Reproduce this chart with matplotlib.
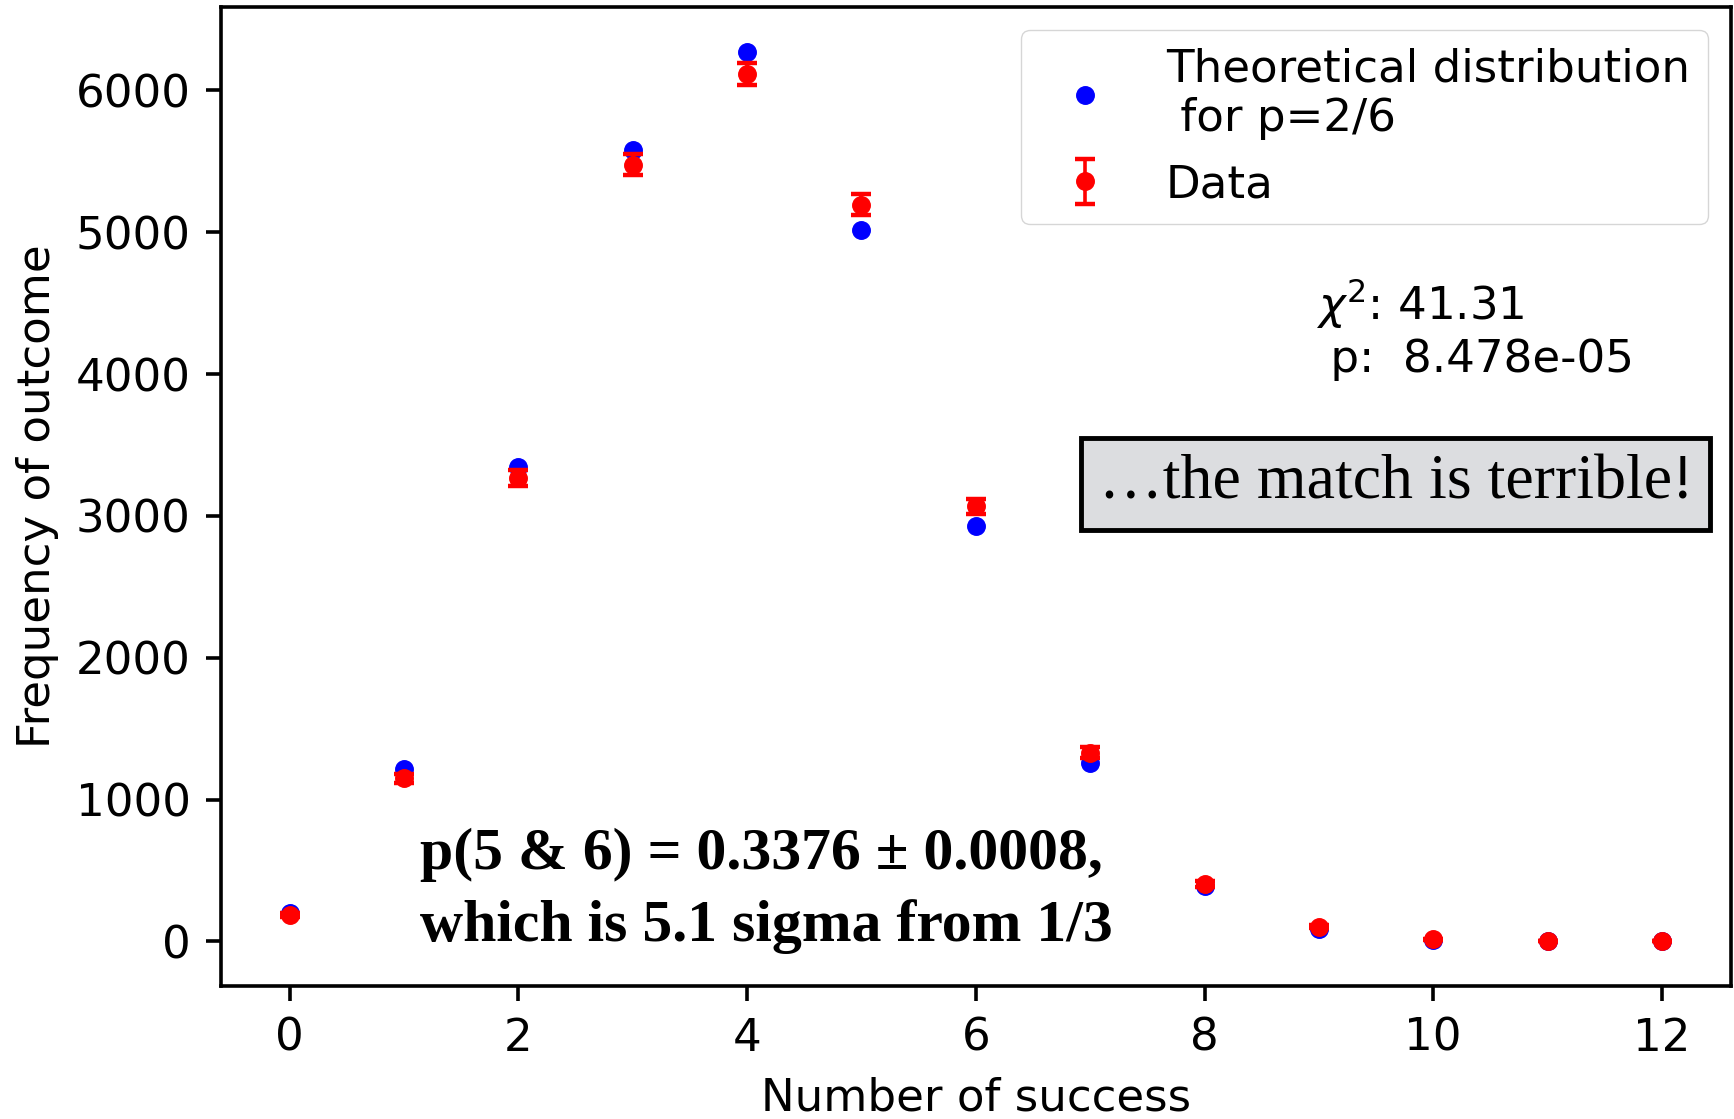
import numpy as np
import matplotlib.pyplot as plt

# =========================
# Data (Weldon dice: number of 5s and 6s in 12 dice)
# =========================
successes = [0, 1, 2, 3, 4, 5, 6, 7, 8, 9, 10, 11, 12]
observed = [185, 1149, 3265, 5475, 6114, 5194, 3067, 1331, 403, 105, 14, 4, 0]
obs_err = [13.6, 33.9, 57.1, 74.0, 78.2, 72.1, 55.4, 36.5, 20.1, 10.2, 3.7, 2.0, 0.0]
expected = [203, 1216, 3345, 5576, 6273, 5018, 2927, 1255, 392, 87, 13, 1, 0]

chi2_text = "$\\chi^2$: 41.31\n p:  8.478e-05"
note_text = "\u2026the match is terrible!"
result_text = "p(5 & 6) = 0.3376 \u00b1 0.0008,\nwhich is 5.1 sigma from 1/3"

# =========================
# Figure
# =========================
fs = 32.5
plt.rcParams["font.size"] = fs
plt.rcParams["axes.linewidth"] = 2.6
plt.rcParams["xtick.major.width"] = 2.6
plt.rcParams["ytick.major.width"] = 2.6
plt.rcParams["xtick.major.size"] = 11
plt.rcParams["ytick.major.size"] = 11
plt.rcParams["xtick.major.pad"] = 11
plt.rcParams["ytick.major.pad"] = 11

fig = plt.figure(figsize=(17.34, 11.19), dpi=100)
ax = fig.add_axes([0.1275, 0.1189, 0.8705, 0.8748])

ax.plot(successes, expected, "bo", markersize=12.6,
        label="Theoretical distribution\n for p=2/6")
ax.errorbar(successes, observed, yerr=obs_err, fmt="ro", markersize=12.6,
            capsize=7, capthick=3.2, elinewidth=2.6, label="Data")

ax.set_xticks([0, 2, 4, 6, 8, 10, 12])
ax.set_yticks([0, 1000, 2000, 3000, 4000, 5000, 6000])
ax.set_xlabel("Number of success", labelpad=12)
ax.set_ylabel("Frequency of outcome", labelpad=12)
ax.legend(loc="upper right", numpoints=1)

fig.text(0.759, 0.706, chi2_text, ha="left", va="center", fontsize=fs)

fig.text(0.805, 0.5676, note_text, ha="center", va="center",
         family="Liberation Serif", fontsize=46,
         bbox=dict(boxstyle="square,pad=0.27", facecolor="#dcdde0",
                   edgecolor="black", linewidth=3.5))

fig.text(0.242, 0.2037, result_text, ha="left", va="center",
         family="Liberation Serif", fontweight="bold", fontsize=43,
         linespacing=1.4)

fig.savefig("out.png", dpi=100)
